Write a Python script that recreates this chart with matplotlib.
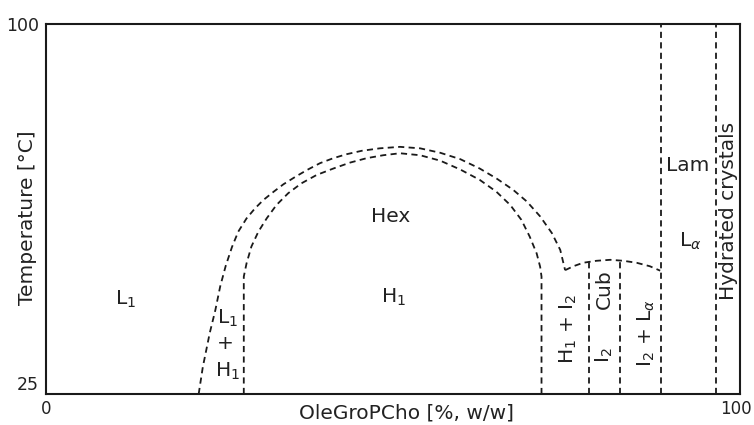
import matplotlib
matplotlib.use("Agg")
import matplotlib.pyplot as plt
import matplotlib.transforms as mtransforms

# Phase boundary curves (x: % w/w, y: °C)
outer_x = [22.0, 22.6, 23.6, 24.4, 25.1, 25.9, 26.8, 27.7, 28.9, 30.1, 31.3, 32.8,
           34.2, 35.9, 37.6, 39.5, 41.4, 43.3, 45.5, 48.1, 51.0, 53.9, 56.8, 59.7,
           62.5, 64.9, 67.3, 69.3, 71.2, 72.9, 74.1, 74.8]
outer_y = [25.0, 30.5, 37.4, 42.0, 46.8, 51.0, 54.8, 57.9, 60.6, 62.6, 64.3, 66.0,
           67.5, 69.0, 70.4, 71.8, 72.8, 73.6, 74.3, 74.8, 75.1, 74.8, 73.9, 72.6,
           70.7, 68.7, 66.4, 64.0, 61.0, 57.6, 54.2, 50.1]

inner_x = [28.5, 28.5, 28.9, 29.6, 30.6, 31.8, 33.2, 34.9, 36.8, 39.0, 41.4, 43.8,
           46.2, 48.6, 51.0, 53.9, 56.8, 59.7, 62.5, 64.9, 66.9, 68.5, 69.7, 70.7,
           71.2, 71.4, 71.4]
inner_y = [25.0, 48.8, 51.5, 54.9, 57.9, 60.6, 63.3, 65.7, 67.7, 69.4, 70.7, 71.9,
           72.8, 73.4, 73.8, 73.4, 72.3, 70.5, 68.4, 66.0, 63.3, 60.3, 56.9, 53.5,
           50.8, 48.8, 25.0]

dome_x = [74.8, 76.0, 77.4, 79.3, 81.3, 83.2, 85.1, 87.0, 88.5]
dome_y = [50.1, 50.9, 51.6, 52.0, 52.2, 52.0, 51.6, 50.9, 50.0]

# vertical boundaries: x position and upper temperature
vert_x = [78.2, 82.7, 88.6, 96.5]
vert_top = [51.7, 51.9, 100.0, 100.0]

# region labels
labels = ["L$_1$", "L$_1$", "+", "H$_1$", "Hex", "H$_1$",
          "H$_1$ + I$_2$", "Cub", "I$_2$", "I$_2$ + L$_\\alpha$",
          "Lam", "L$_\\alpha$", "Hydrated crystals"]
label_x = [11.4, 26.1, 25.8, 26.1, 49.7, 50.0, 75.2, 80.4, 80.4, 86.5, 92.5, 92.9, 98.4]
label_y = [44.1, 40.4, 35.3, 29.5, 60.9, 44.5, 38.2, 46.3, 32.9, 37.4, 71.4, 56.0, 62.1]
label_rot = [0, 0, 0, 0, 0, 0, 90, 90, 90, 90, 0, 0, 90]

x_ticks = [0, 100]
y_ticks = [25, 100]

FAM = "DejaVu Sans"
TXT = "#222222"
FS = 14.5

fig = plt.figure(figsize=(7.54, 4.25), dpi=100)
ax = fig.add_axes([46 / 754, 31 / 425, 694 / 754, 370 / 425])

ls = dict(color="#1a1a1a", lw=1.3, linestyle=(0, (3.4, 2.4)))
ax.plot(outer_x, outer_y, **ls)
ax.plot(inner_x, inner_y, **ls)
ax.plot(dome_x, dome_y, **ls)
for xv, top in zip(vert_x, vert_top):
    ax.plot([xv, xv], [25, top], **ls)

for t, x, y, r in zip(labels, label_x, label_y, label_rot):
    ax.text(x, y, t, rotation=r, ha="center", va="center", fontsize=FS,
            color=TXT, family=FAM)

ax.set_xlim(0, 100)
ax.set_ylim(25, 100)
ax.set_xticks(x_ticks)
ax.set_yticks(y_ticks)
ax.set_xticklabels([str(v) for v in x_ticks])
ax.set_yticklabels([str(v) for v in y_ticks])
ax.tick_params(length=0, labelsize=12.5, labelcolor=TXT)
ax.tick_params(axis="x", pad=4, labelsize=12)
ax.tick_params(axis="y", pad=5)
for lab in ax.get_xticklabels() + ax.get_yticklabels():
    lab.set_family(FAM)
yl = ax.get_yticklabels()
yl[0].set_va("bottom")
xl = ax.get_xticklabels()
xl[1].set_ha("right")
xl[1].set_transform(xl[1].get_transform() +
                    mtransforms.ScaledTranslation(12 / 100, 0, fig.dpi_scale_trans))
for s in ax.spines.values():
    s.set_linewidth(1.5)
    s.set_color("#1a1a1a")

ax.set_xlabel("OleGroPCho [%, w/w]", fontsize=FS, color=TXT, family=FAM, va="center")
ax.xaxis.set_label_coords(0.519, -0.051)
ax.set_ylabel("Temperature [°C]", fontsize=FS, color=TXT, family=FAM, va="center")
ax.yaxis.set_label_coords(-0.027, 0.476)

fig.savefig("out.png", dpi=100)
